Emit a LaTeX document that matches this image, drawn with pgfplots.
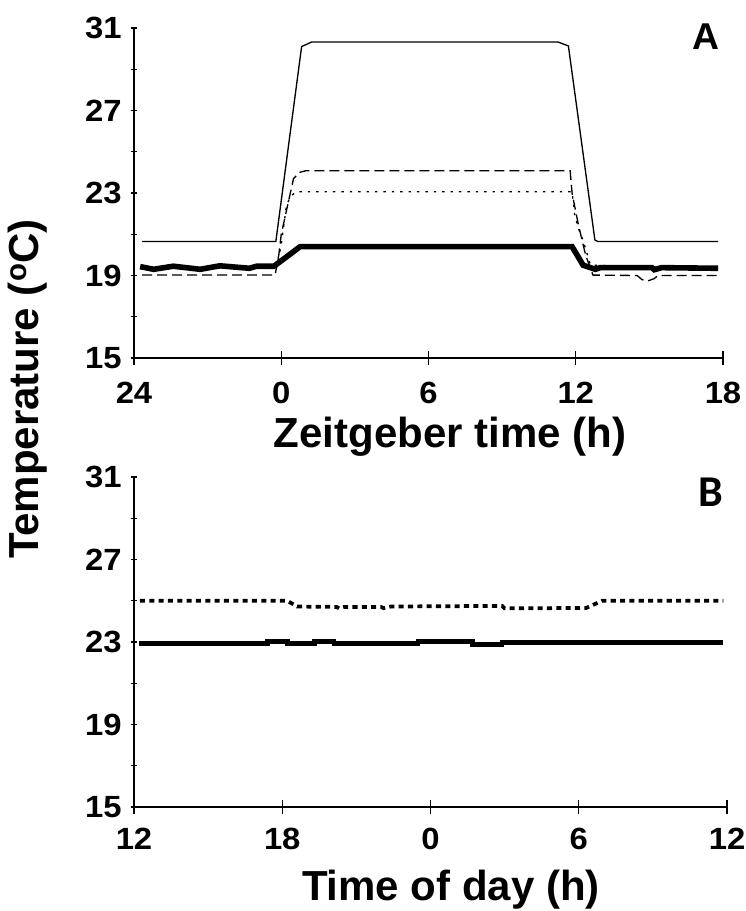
\documentclass[border=0pt]{standalone}
\usepackage{fontspec}
\setmainfont{Liberation Sans}
\newfontfamily\carlito{Carlito}
\newfontfamily\widefont[FakeStretch=1.07]{Liberation Sans}
\usepackage{pgfplots}
\pgfplotsset{compat=1.18}
\pgfplotsset{
  panel/.style={
    scale only axis,
    height=247.5pt,
    axis x line*=bottom, axis y line*=left,
    ymin=15, ymax=31,
    ytick={15,19,23,27,31}, minor ytick={17,21,25,29},
    tick align=center,
    axis line style={line width=1.1pt, black},
    every tick/.style={black, line width=1.1pt},
    major tick length=5pt, minor tick length=5pt,
    xtick style={/pgfplots/major tick length=11pt},
    /pgf/number format/assume math mode=true,
    tick label style={font=\fontsize{23}{23}\selectfont\widefont\bfseries, inner sep=0pt},
    yticklabel style={anchor=east},
    yticklabel shift=6.5pt,
    xticklabel style={anchor=north},
  }
}
\begin{document}
\begin{tikzpicture}
\useasboundingbox (0,0) rectangle (559.5pt,683.25pt);
% Panel A
\begin{axis}[panel, at={(100.5pt,414.75pt)}, anchor=south west, width=441.75pt,
  xticklabel shift=15.5pt,
  xmin=-6, xmax=18, xtick={-6,0,6,12,18}, xticklabels={24,0,6,12,18}]
\addplot[black, line width=1pt] coordinates {
(-5.67,20.65) (-0.22,20.65) (0.83,30.1) (1.24,30.32) (11.28,30.32) (11.7,30.13) (12.78,20.72) (12.9,20.65) (17.8,20.65)};
\addplot[black, line width=1pt, dash pattern=on 7.5pt off 3.75pt] coordinates {
(-5.67,19.02) (-0.25,19.02) (-0.1,20.0) (0.0,21.0) (0.5,23.7) (0.75,24.0) (1.0,24.08) (11.77,24.08) (11.85,23.0) (12.1,21.5) (12.4,20.0) (12.7,19.02) (14.5,19.0) (14.7,18.8) (14.9,18.72) (15.2,18.85) (15.35,19.0) (17.8,19.0)};
\addplot[black, line width=1pt, dash pattern=on 1.8pt off 4.5pt] coordinates {
(-5.67,19.35) (-0.2,19.35) (0.0,20.5) (0.2,22.3) (0.35,22.8) (0.6,23.06) (11.85,23.06) (11.95,22.0) (12.1,21.3) (12.3,20.7) (12.6,19.5) (17.8,19.35)};
\addplot[black, line width=4.2pt] coordinates {
(-5.75,19.43) (-5.2,19.3) (-4.4,19.45) (-3.3,19.3) (-2.5,19.47) (-1.3,19.35) (-1.0,19.45) (-0.3,19.45) (0.1,19.8) (0.77,20.4) (11.85,20.4) (12.3,19.5) (12.8,19.3) (13.0,19.38) (15.1,19.38) (15.2,19.28) (15.5,19.38) (17.8,19.35)};
\end{axis}
% Panel B
\begin{axis}[panel, at={(100.5pt,78pt)}, anchor=south west, width=444.75pt,
  xticklabel shift=13pt,
  xmin=0, xmax=24, xtick={0,6,12,18,24}, xticklabels={12,18,0,6,12}]
\addplot[black, line width=2.8pt, dash pattern=on 3.8pt off 3.2pt] coordinates {
(0.24,25.0) (6.2,25.0) (6.6,24.72) (8.2,24.7) (8.3,24.63) (8.5,24.7) (10.0,24.7) (10.1,24.64) (10.4,24.72) (14.9,24.75) (15.0,24.63) (18.3,24.65) (18.95,25.0) (23.85,25.0)};
\addplot[black, line width=3.5pt] coordinates {
(0.2,22.94) (5.4,22.94) (5.4,23.02) (6.2,23.02) (6.2,22.94) (7.3,22.94) (7.3,23.02) (8.1,23.02) (8.1,22.94) (11.5,22.94) (11.5,23.02) (13.7,23.02) (13.7,22.88) (14.9,22.88) (14.9,22.98) (23.85,22.98)};
\end{axis}
% labels
\node[rotate=90, anchor=center, font=\fontsize{31.5}{31.5}\selectfont\bfseries] at (21pt,391.5pt) {Temperature (\textsuperscript{o}C)};
\node[anchor=base, font=\fontsize{31.5}{31.5}\selectfont\bfseries, inner sep=0pt] at (337.5pt,347.25pt) {Zeitgeber time (h)};
\node[anchor=base, font=\fontsize{31.5}{31.5}\selectfont\bfseries, inner sep=0pt] at (338.25pt,8.25pt) {Time of day (h)};
\node[anchor=base, font=\fontsize{28}{28}\selectfont\bfseries, inner sep=0pt] at (529.5pt,645.75pt) {A};
\node[anchor=base, font=\fontsize{33}{33}\selectfont\carlito\bfseries, inner sep=0pt] at (533.25pt,303pt) {B};
\end{tikzpicture}
\end{document}
